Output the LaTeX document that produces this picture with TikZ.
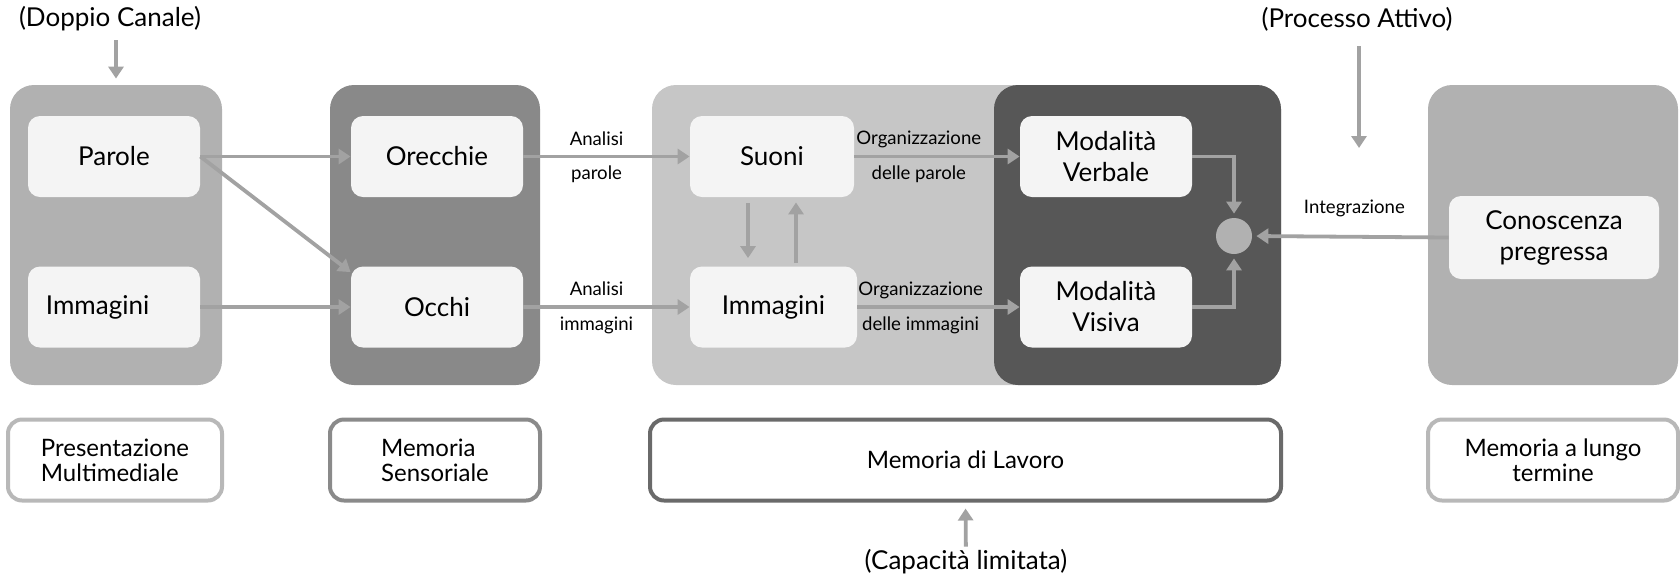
\documentclass[tikz,border=0pt]{standalone}
\usepackage{fontspec}
\setmainfont{Lato}
\usetikzlibrary{arrows.meta}
\definecolor{grigioPannello}{HTML}{B1B1B1}
\definecolor{grigioSensori}{HTML}{898989}
\definecolor{grigioLavoro}{HTML}{C6C6C6}
\definecolor{grigioScuro}{HTML}{575757}
\definecolor{grigioCasella}{HTML}{F4F4F4}
\definecolor{grigioFreccia}{HTML}{A2A2A2}
\definecolor{bordoChiaro}{HTML}{B8B8B8}
\definecolor{bordoMedio}{HTML}{8A8A8A}
\definecolor{bordoScuro}{HTML}{6A6A6A}
\tikzset{
  pannello/.style={rounded corners=12pt, minimum height=150pt, inner sep=0pt},
  casella/.style={fill=grigioCasella, rounded corners=6pt, minimum height=40.5pt,
    minimum width=86pt, inner sep=0pt, align=center, font=\fontsize{13}{15.5}\selectfont},
  legenda/.style={draw, line width=2pt, fill=white, rounded corners=7pt,
    minimum height=40.5pt, inner sep=0pt, font=\fontsize{12}{12.5}\selectfont},
  freccia/.style={draw=grigioFreccia, line width=1.9pt, -{Triangle[length=6pt,width=7.5pt]}},
  etichetta/.style={font=\fontsize{9.3}{10}\selectfont},
  titolo/.style={font=\fontsize{13}{15}\selectfont},
}
\begin{document}
\begin{tikzpicture}[x=0.5pt, y=-0.5pt]
\useasboundingbox (0,0) rectangle (1680,580);
% pannelli
\node[pannello, fill=grigioPannello, minimum width=106pt] (presentazione) at (116,235) {};
\node[pannello, fill=grigioSensori, minimum width=105pt] (sensoriale) at (435,235) {};
\node[pannello, fill=grigioLavoro, minimum width=314.5pt] (lavoro) at (966.5,235) {};
\node[pannello, fill=grigioScuro, minimum width=143.5pt] (modalita) at (1137.5,235) {};
\node[pannello, fill=grigioPannello, minimum width=125pt] (lungo) at (1553,235) {};
% caselle
\node[casella] (parole) at (114,156.5) {Parole};
\node[casella, text width=68pt, align=left] (immagini) at (114,307) {Immagini};
\node[casella] (orecchie) at (437,156.5) {Orecchie};
\node[casella] (occhi) at (437,307) {Occhi};
\node[casella, minimum width=82pt] (suoni) at (772,156.5) {Suoni};
\node[casella, minimum width=83.5pt] (immagini2) at (773.5,307) {Immagini};
\node[casella] (verbale) at (1106,156.5) {Modalità\\Verbale};
\node[casella] (visiva) at (1106,307) {Modalità\\Visiva};
\node[casella, minimum width=105pt, minimum height=41.5pt] (conoscenza) at (1554,237.5) {Conoscenza\\pregressa};
\node[circle, fill=grigioPannello, minimum size=18pt, inner sep=0pt] (nodo) at (1234,236) {};
% legenda
\node[legenda, draw=bordoChiaro, minimum width=107pt, align=left] (legPresentazione) at (115,460) {Presentazione\\Multimediale};
\node[legenda, draw=bordoMedio, minimum width=105pt, align=left] (legSensoriale) at (435,460) {Memoria\\Sensoriale};
\node[legenda, draw=bordoScuro, minimum width=315.5pt] (legLavoro) at (965.5,460) {Memoria di Lavoro};
\node[legenda, draw=bordoChiaro, minimum width=125pt, align=center] (legLungo) at (1553,460) {Memoria a lungo\\termine};
% titoli
\node[titolo] (doppio) at (110,19) {(Doppio Canale)};
\node[titolo] (processo) at (1357,19) {(Processo Attivo)};
\node[titolo] (capacita) at (966,562) {(Capacità limitata)};
\coordinate (attivo) at (1359,148);
% frecce
\draw[freccia, shorten <=1pt, shorten >=3pt] (presentazione.north |- doppio.south) -- (presentazione.north);
\draw[freccia, shorten <=4pt] (processo.south -| attivo) -- (attivo);
\draw[freccia, shorten <=-2pt, shorten >=3pt] (capacita) -- (legLavoro.south);
\draw[freccia] (parole.east) -- (orecchie.west);
\draw[freccia] (parole.east) -- (occhi.158);
\draw[freccia] (immagini.east) -- (occhi.west);
\draw[freccia] (orecchie.east) -- (suoni.west)
  node[etichetta, pos=.44, yshift=9pt] {Analisi} node[etichetta, pos=.44, yshift=-9pt] {parole};
\draw[freccia] (occhi.east) -- (immagini2.west)
  node[etichetta, pos=.44, yshift=9pt] {Analisi} node[etichetta, pos=.44, yshift=-9pt] {immagini};
\draw[freccia] (suoni.east) -- (verbale.west)
  node[etichetta, pos=.39, yshift=8.5pt] {Organizzazione} node[etichetta, pos=.39, yshift=-9pt] {delle parole};
\draw[freccia] (immagini2.east) -- (visiva.west)
  node[etichetta, pos=.39, yshift=8.5pt] {Organizzazione} node[etichetta, pos=.39, yshift=-9pt] {delle immagini};
\draw[freccia, shorten <=3pt, shorten >=4pt] ([xshift=-12pt]suoni.south) -- ([xshift=-12pt]suoni.south |- immagini2.north);
\draw[freccia, shorten <=1.5pt, shorten >=2.5pt] ([xshift=12pt]suoni.south |- immagini2.north) -- ([xshift=12pt]suoni.south);
\draw[freccia, shorten >=2pt] (verbale.east) -| (nodo.north);
\draw[freccia, shorten >=2pt] (visiva.east) -| (nodo.south);
\draw[freccia, shorten >=2pt] (conoscenza.west) -- (nodo.east)
  node[etichetta, pos=.48, yshift=14pt] {Integrazione};
\end{tikzpicture}
\end{document}
